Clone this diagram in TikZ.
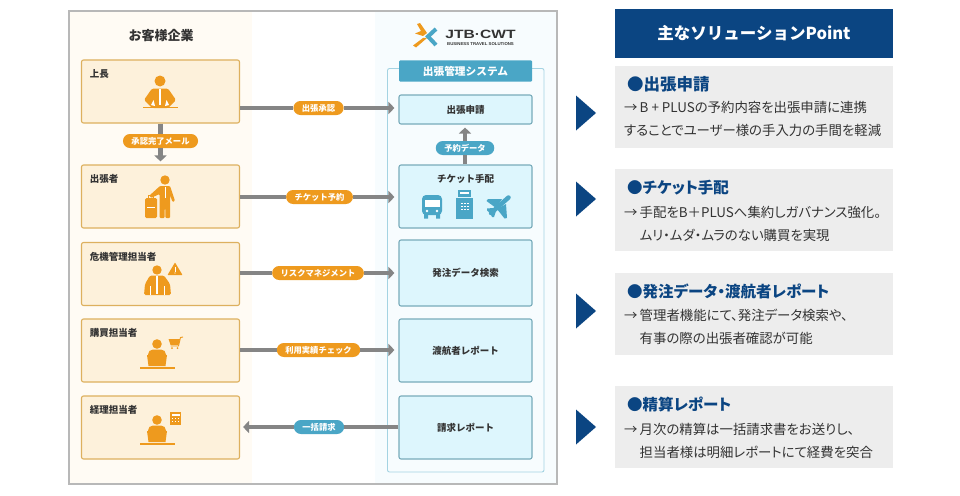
\documentclass[tikz,border=0pt]{standalone}
\usepackage{fontspec}
\setmainfont{Noto Sans CJK JP}
\newfontfamily\paltfont[RawFeature=+palt]{Noto Sans CJK JP}
\newfontfamily\logofont{Liberation Sans}
\usetikzlibrary{arrows.meta}
\definecolor{ink}{HTML}{333333}
\definecolor{creambg}{HTML}{FFFBF4}
\definecolor{icebg}{HTML}{F7FCFE}
\definecolor{amber}{HTML}{EE9A1E}
\definecolor{amberline}{HTML}{DDB05E}
\definecolor{creambox}{HTML}{FDF1DB}
\definecolor{sky}{HTML}{4AA6C6}
\definecolor{skyline}{HTML}{78ABBA}
\definecolor{icebox}{HTML}{DDF6FD}
\definecolor{flowgray}{HTML}{858585}
\definecolor{navy}{HTML}{0B4582}
\definecolor{panelgray}{HTML}{EDEDED}
\newcommand{\solarrow}{\makebox[15.5pt][l]{→}}
\tikzset{
    deskworker/.pic={
        \fill[amber] (0,-6) circle (4.8);
        \fill[amber,rounded corners=5pt] (-9,10) -- (-9,-0.5) -- (9,-0.5) -- (9,10) -- cycle;
        \fill[amber] (-10,5) -- (10,5) -- (8.5,16) -- (-8.5,16) -- cycle;
        \draw[amber,line width=1.2pt] (-17,18) -- (18,18);
    }
}
\begin{document}
\begin{tikzpicture}[
        x=1pt,y=-1pt,
        actor/.style={draw=amberline,fill=creambox,rounded corners=2pt,line width=1.1pt,
            minimum width=158pt,minimum height=63pt,inner sep=0pt,
            label={[font=\fontsize{9.5}{11}\selectfont\bfseries,text=ink,anchor=west,xshift=5.5pt,yshift=-14.5pt]north west:#1}},
        service/.style={draw=skyline,fill=icebox,rounded corners=2pt,line width=1.1pt,
            minimum width=133pt,minimum height=63pt,inner sep=0pt,text=ink,
            font=\fontsize{9.5}{11}\selectfont\bfseries},
        pill/.style={fill=#1,rounded corners=7pt,minimum height=14pt,inner ysep=0pt,inner xsep=8.5pt,
            text=white,font=\fontsize{8.3}{10}\selectfont\bfseries},
        flow/.style={draw=flowgray,line width=4.5pt},
        flowtip/.style={flow,-{Triangle[length=6pt,width=12pt,fill=flowgray]},shorten >=#1},
        solbox/.style={fill=panelgray,minimum width=278pt,minimum height=82pt,inner sep=0pt},
        solhead/.style={text=navy,anchor=west,inner sep=0pt,font=\paltfont\fontsize{15.5}{18}\selectfont\bfseries},
        soltext/.style={text=ink,anchor=north west,align=left,inner sep=0pt,font=\paltfont\fontsize{13.4}{23}\selectfont},
        skyicon/.style={fill=sky}
    ]
    \useasboundingbox (0,0) rectangle (960,495);
    \fill[white] (0,0) rectangle (960,495);

    \fill[creambg] (70,12) rectangle (252,484);
    \fill[icebg] (375,12) rectangle (556,484);
    \draw[black!28,line width=1.2pt] (69,11) rectangle (557,484);
    \draw[sky!50,fill=icebg,rounded corners=2pt,line width=0.9pt] (387.5,68.5) rectangle (544,472);

    \node[text=ink,font=\fontsize{13}{15}\selectfont\bfseries] (client) at (161,36) {お客様企業};

    \node[actor=上長] (boss) at (160.5,91.5) {};
    \node[actor=出張者] (traveler) at (160.5,196.5) {};
    \node[actor=危機管理担当者] (risk) at (160.5,274) {};
    \node[actor=購買担当者] (buyer) at (160.5,350.5) {};
    \node[actor=経理担当者] (account) at (160.5,427.5) {};

    \node[fill=sky,minimum width=133pt,minimum height=21pt,inner sep=0pt,rounded corners=1pt,
        text=white,font=\fontsize{10.7}{12}\selectfont\bfseries] (system) at (465.5,71) {出張管理システム};
    \node[service,minimum height=29pt] (apply) at (465.5,109.5) {出張申請};
    \node[service,text height=10pt,text depth=38pt] (ticket) at (465.5,196.5) {チケット手配};
    \node[service,minimum height=66pt] (search) at (465.5,273) {発注データ検索};
    \node[service] (report) at (465.5,350.5) {渡航者レポート};
    \node[service] (invoice) at (465.5,427.5) {請求レポート};

    \node[pill=amber] (approve) at (318.5,108) {出張承認};
    \node[pill=amber] (book) at (319.5,197) {チケット予約};
    \node[pill=amber] (riskmg) at (318,273) {リスクマネジメント};
    \node[pill=amber] (check) at (318.5,350) {利用実績チェック};
    \node[pill=sky] (bill) at (319,427) {一括請求};
    \node[pill=amber] (mail) at (160.5,141) {承認完了メール};
    \node[pill=sky] (resv) at (465,148) {予約データ};

    \draw[flow] (boss.east |- approve) -- (approve.west);
    \draw[flowtip=4pt] (approve.east) -- (apply.west |- approve);
    \draw[flow] (traveler.east |- book) -- (book.west);
    \draw[flowtip=4pt] (book.east) -- (ticket.west |- book);
    \draw[flow] (risk.east |- riskmg) -- (riskmg.west);
    \draw[flowtip=4pt] (riskmg.east) -- (search.west |- riskmg);
    \draw[flow] (buyer.east |- check) -- (check.west);
    \draw[flowtip=4pt] (check.east) -- (report.west |- check);
    \draw[flow] (invoice.west |- bill) -- (bill.east);
    \draw[flowtip=3pt] (bill.west) -- (account.east |- bill);
    \draw[flow] (boss.south) -- (mail.north);
    \draw[flowtip=3pt] (mail.south) -- (traveler.north);
    \draw[flow] (ticket.north -| resv) -- (resv.south);
    \draw[flowtip=3pt] (resv.north) -- (apply.south -| resv);

    % boss
    \fill[amber] (160,81) circle (5.5);
    \fill[amber,rounded corners=1.5pt] (152,88.5) -- (168,88.5) -- (176,100) -- (168,108) -- (152,108) -- (144,100) -- cycle;
    \draw[white,line width=1.6pt] (160,89) -- (160,105);
    \fill[white] (151,105) -- (153.5,100) -- (155,106) -- cycle;
    \fill[white] (169,105) -- (166.5,100) -- (165,106) -- cycle;
    \draw[amber,line width=1pt] (143,107) -- (178,107);

    % traveler
    \fill[amber] (165,180) circle (4.7);
    \fill[amber,rounded corners=1pt] (160,186) -- (170,186) -- (175,201) -- (172.5,202) -- (170,195) -- (170,218) -- (165.5,218) -- (165,201) -- (164.5,218) -- (159.5,218) -- (159.5,194) -- (151,198) -- (149.5,195.5) -- cycle;
    \draw[white,line width=1pt] (165,187) -- (165,198);
    \fill[amber,rounded corners=1.5pt] (145,198) rectangle (157,218);
    \draw[amber,line width=1pt] (148.5,198) -- (148.5,195) -- (153.5,195) -- (153.5,198);
    \draw[white,line width=0.7pt] (147,207) -- (155,207);

    % risk manager
    \fill[amber] (157,270) circle (4.7);
    \fill[amber,rounded corners=1.5pt] (150,275.5) -- (164,275.5) -- (170,284) -- (171,295) -- (144,295) -- (145,284) -- cycle;
    \draw[white,line width=1.5pt] (157,276) -- (157,294);
    \draw[white,line width=0.6pt] (150,286) -- (150,295) (164,286) -- (164,295);
    \fill[amber,rounded corners=0.5pt] (175,262.5) -- (182.5,275) -- (167.5,275) -- cycle;
    \draw[white,line width=0.9pt] (175,267) -- (175,271.5);
    \fill[white] (175,273) circle (0.55);

    % buyer
    \path (157,350) pic {deskworker};
    \draw[amber,line width=0.9pt] (183,337) -- (180.5,337.5) -- (178.5,346) -- (170.5,346);
    \fill[amber] (168.5,339) -- (180,339) -- (178.5,345) -- (170.5,345) -- cycle;
    \fill[amber] (172,348) circle (1) (177.5,348) circle (1);

    % accountant
    \path (157,426) pic {deskworker};
    \fill[amber] (170,412) rectangle (181,425);
    \fill[white] (171.5,413.5) rectangle (179.5,416);
    \foreach \col in {172.5,175.5,178.5} \foreach \row in {418.5,421.5} {
        \fill[white] (\col-0.8,\row-0.8) rectangle (\col+0.8,\row+0.8);
    }

    % bus
    \fill[skyicon,rounded corners=4pt] (422,195) rectangle (442,215);
    \fill[skyicon] (424,214) rectangle (428,218.5) (436,214) rectangle (440,218.5);
    \fill[white] (424.5,200) rectangle (439.5,207);
    \fill[white] (427,211) circle (1.4) (437,211) circle (1.4);

    % hotel
    \fill[skyicon] (458,190) rectangle (471,197);
    \fill[white] (460,192) rectangle (469,194);
    \fill[skyicon] (456,198) rectangle (473,218.5);
    \foreach \col in {462,465,468} \foreach \row in {203.5,206.5,209.5} {
        \fill[white] (\col-0.9,\row-0.9) rectangle (\col+0.9,\row+0.9);
    }

    % plane
    \draw[sky,line width=4.5pt,line cap=round] (508.5,197.5) -- (491,213);
    \fill[skyicon] (502,199) -- (488,199) -- (486.5,201) -- (496,208) -- cycle;
    \fill[skyicon] (506,204) -- (507,218) -- (504.5,218.5) -- (497,209) -- cycle;
    \fill[skyicon] (493,208) -- (487,208.5) -- (487,210.5) -- (490,213) -- (492,217) -- (494,217) -- (496,211) -- cycle;

    % logo
    \fill[amber] (417,24) -- (420,23) -- (427,33) -- (423,36) -- (415,33.5) -- (421,31) -- cycle;
    \fill[amber] (423,38) -- (427,38) -- (416,47.5) -- (413,45.5) -- cycle;
    \draw[sky,line width=4pt] (436,29) -- (428,36.5) -- (436,45);
    \node[text=ink,inner sep=0pt,font=\logofont\fontsize{12}{13}\selectfont\bfseries,xscale=1.3] (logo) at (480.5,34) {JTB·CWT};
    \node[text=ink,inner sep=0pt,font=\logofont\fontsize{4.2}{5}\selectfont\bfseries,xscale=1.03] (logosub) at (480.5,44) {BUSINESS TRAVEL SOLUTIONS};

    % solution column
    \node[fill=navy,minimum width=278pt,minimum height=49pt,inner sep=0pt,text=white,
        font=\fontsize{16.5}{18}\selectfont\bfseries] (point) at (754,33.5) {主なソリューションPoint};

    \node[solbox] (sol1) at (754,107) {};
    \node[solhead,font=\paltfont\fontsize{16.5}{18}\selectfont\bfseries] (head1) at (627,84) {●出張申請};
    \node[soltext] (text1) at (624,101) {\solarrow B\kern3pt+\kern3pt PLUSの予約内容を出張申請に連携\\することでユーザー様の手入力の手間を軽減};

    \node[solbox] (sol2) at (754,210) {};
    \node[solhead] (head2) at (627,188) {●チケット手配};
    \node[soltext] (text2) at (624,206.5) {\solarrow 手配をB＋PLUSへ集約しガバナンス強化。\\\hspace*{15.5pt}ムリ・ムダ・ムラのない購買を実現};

    \node[solbox] (sol3) at (754,314) {};
    \node[solhead] (head3) at (627,291) {●発注データ・渡航者レポート};
    \node[soltext] (text3) at (624,309) {\solarrow 管理者機能にて、発注データ検索や、\\\hspace*{15.5pt}有事の際の出張者確認が可能};

    \node[solbox] (sol4) at (754,427) {};
    \node[solhead] (head4) at (627,404) {●精算レポート};
    \node[soltext] (text4) at (624,423) {\solarrow 月次の精算は一括請求書をお送りし、\\\hspace*{15.5pt}担当者様は明細レポートにて経費を突合};

    \foreach \y in {113,199,311,427} {
        \fill[navy] (576,\y-17.5) -- (596,\y) -- (576,\y+17.5) -- cycle;
    }
\end{tikzpicture}
\end{document}
